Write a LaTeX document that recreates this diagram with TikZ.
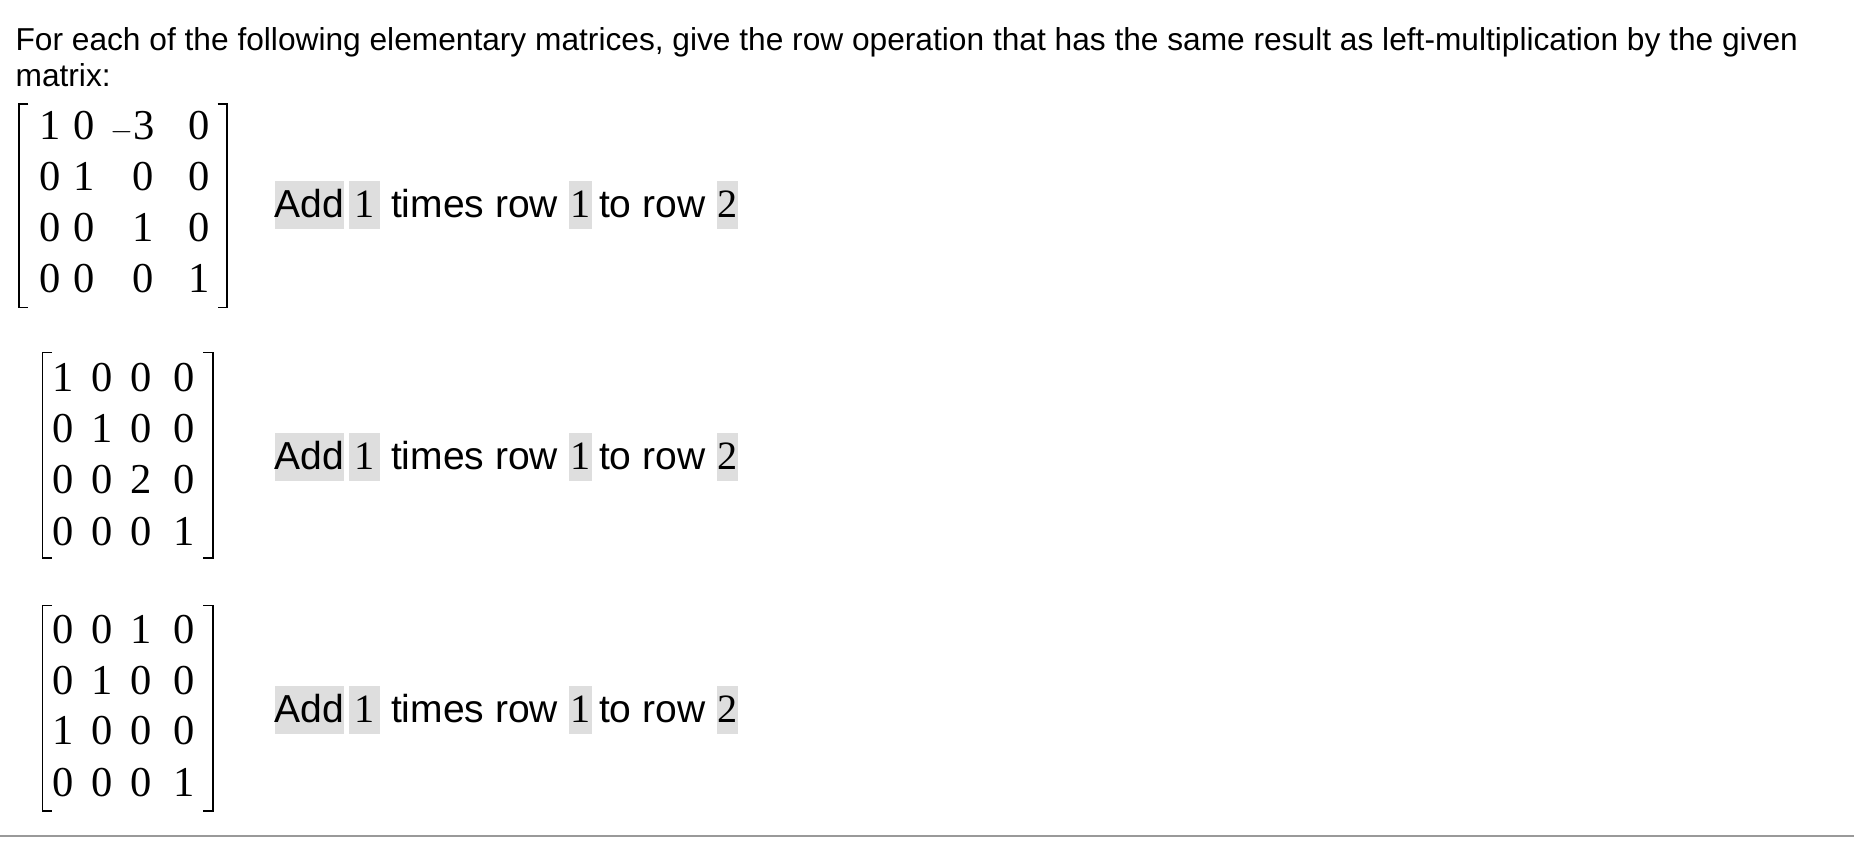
\documentclass[tikz,border=0pt]{standalone}
\usepackage{fontspec}
\setmainfont{Liberation Sans}
\newfontfamily\numfont{Liberation Serif}
\begin{document}
\begin{tikzpicture}[x=1pt,y=-1pt,
  hdr/.style={anchor=base west,inner sep=0pt,font=\fontsize{26.8}{30}\selectfont},
  ent/.style={anchor=base,inner sep=0pt,font=\numfont\fontsize{36}{40}\selectfont},
  hl/.style={anchor=base west,fill=black!13,inner sep=0pt,text height=31pt,text depth=10pt,font=\fontsize{33}{38}\selectfont},
  nohl/.style={anchor=base west,inner sep=0pt,font=\fontsize{33}{38}\selectfont},
  brk/.style={line width=1.4pt}]
\useasboundingbox (0,0) rectangle (1568,713);
\node[hdr] (h1) at (13,43) {For each of the following elementary matrices, give the row operation that has the same result as left-multiplication by the given};
\node[hdr] (h2) at (13,73) {matrix:};
% matrix 1
\draw[brk] (24,88) -- (16,88) -- (16,260) -- (24,260);
\draw[brk] (184,88) -- (192,88) -- (192,260) -- (184,260);
\node[ent] (m1a) at (42,118) {1}; \node[ent] (m1b) at (71,118) {0}; \node[ent] (m1c) at (112,118) {$-$3}; \node[ent] (m1d) at (168,118) {0};
\node[ent] (m1e) at (42,161) {0}; \node[ent] (m1f) at (71,161) {1}; \node[ent] (m1g) at (121,161) {0}; \node[ent] (m1h) at (168,161) {0};
\node[ent] (m1i) at (42,204) {0}; \node[ent] (m1j) at (71,204) {0}; \node[ent] (m1k) at (121,204) {1}; \node[ent] (m1l) at (168,204) {0};
\node[ent] (m1m) at (42,247) {0}; \node[ent] (m1n) at (71,247) {0}; \node[ent] (m1o) at (121,247) {0}; \node[ent] (m1p) at (168,247) {1};
% matrix 2
\draw[brk] (44,298) -- (36,298) -- (36,472) -- (44,472);
\draw[brk] (172,298) -- (180,298) -- (180,472) -- (172,472);
\node[ent] (m2a) at (53,331) {1}; \node[ent] (m2b) at (86,331) {0}; \node[ent] (m2c) at (119,331) {0}; \node[ent] (m2d) at (156,331) {0};
\node[ent] (m2e) at (53,374) {0}; \node[ent] (m2f) at (86,374) {1}; \node[ent] (m2g) at (119,374) {0}; \node[ent] (m2h) at (156,374) {0};
\node[ent] (m2i) at (53,417) {0}; \node[ent] (m2j) at (86,417) {0}; \node[ent] (m2k) at (119,417) {2}; \node[ent] (m2l) at (156,417) {0};
\node[ent] (m2m) at (53,461) {0}; \node[ent] (m2n) at (86,461) {0}; \node[ent] (m2o) at (119,461) {0}; \node[ent] (m2p) at (156,461) {1};
% matrix 3
\draw[brk] (44,512) -- (36,512) -- (36,686) -- (44,686);
\draw[brk] (172,512) -- (180,512) -- (180,686) -- (172,686);
\node[ent] (m3a) at (53,544) {0}; \node[ent] (m3b) at (86,544) {0}; \node[ent] (m3c) at (119,544) {1}; \node[ent] (m3d) at (156,544) {0};
\node[ent] (m3e) at (53,587) {0}; \node[ent] (m3f) at (86,587) {1}; \node[ent] (m3g) at (119,587) {0}; \node[ent] (m3h) at (156,587) {0};
\node[ent] (m3i) at (53,630) {1}; \node[ent] (m3j) at (86,630) {0}; \node[ent] (m3k) at (119,630) {0}; \node[ent] (m3l) at (156,630) {0};
\node[ent] (m3m) at (53,674) {0}; \node[ent] (m3n) at (86,674) {0}; \node[ent] (m3o) at (119,674) {0}; \node[ent] (m3p) at (156,674) {1};
% operation lines
\foreach \k/\y in {1/184,2/397,3/611}{
  \node[hl] (add\k) at (232,\y) {Add};
  \node[hl,font=\numfont\fontsize{34}{38}\selectfont,minimum width=26pt] (s\k) at ([xshift=4pt]add\k.base east) {1};
  \node[nohl] (t\k) at ([xshift=9pt]s\k.base east) {times row};
  \node[hl,font=\numfont\fontsize{34}{38}\selectfont,minimum width=19pt] (r\k) at ([xshift=9pt]t\k.base east) {1};
  \node[nohl] (u\k) at ([xshift=6pt]r\k.base east) {to row};
  \node[hl,font=\numfont\fontsize{34}{38}\selectfont,minimum width=18pt] (w\k) at ([xshift=9pt]u\k.base east) {2};
}
\coordinate (l0) at (0,707); \coordinate (l1) at (1568,707);
\draw[black!40,line width=1.2pt] (l0) -- (l1);
\end{tikzpicture}
\end{document}
